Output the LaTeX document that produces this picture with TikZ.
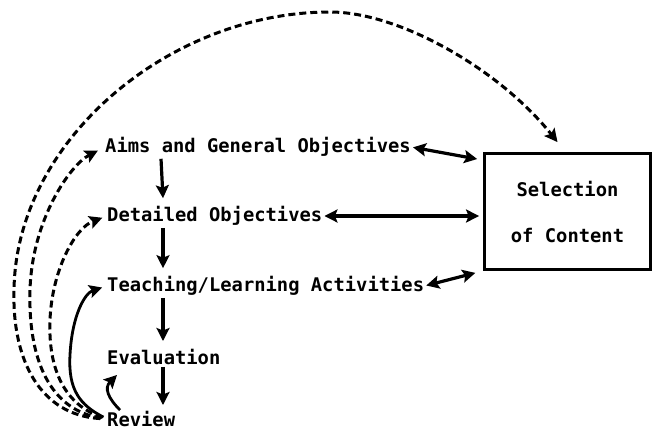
\documentclass[tikz,border=0pt]{standalone}
\usepackage{fontspec}
\newfontfamily\printfont{DejaVu Sans Mono}
\usetikzlibrary{arrows.meta}
\begin{document}
\begin{tikzpicture}[x=1pt,y=-1pt,
  label/.style={inner xsep=0pt,inner ysep=2pt,anchor=west,font=\printfont\bfseries\fontsize{18.8}{22}\selectfont},
  tip/.style={-{Stealth[length=13pt,width=13pt,inset=2.5pt]}},
  flow/.style={line width=3.2pt,tip},
  both/.style={line width=3.2pt,{Stealth[length=13pt,width=13pt,inset=2.5pt]}-{Stealth[length=13pt,width=13pt,inset=2.5pt]}},
  loop/.style={line width=3pt,dash pattern=on 7pt off 4pt,tip},
  back/.style={line width=2.8pt,tip}]
\useasboundingbox (0,0) rectangle (653,430);

% stages of the cycle
\node[label] (aims)  at (105,147) {Aims and General Objectives};
\node[label] (det)   at (107,216) {Detailed Objectives};
\node[label] (teach) at (107,286) {Teaching/Learning Activities};
\node[label] (eval)  at (107,357) {Evaluation};
\node[label] (rev)   at (107,419) {Review};

% content box
\node[draw,line width=2.8pt,minimum width=166pt,minimum height=116pt,align=center,
      font=\printfont\bfseries\fontsize{18.8}{22}\selectfont] (sel) at (567.5,211.5)
      {Selection\\[24pt]of Content};

% downward flow
\draw[flow] ([xshift=56pt]aims.south west) -- ([xshift=56pt,yshift=6pt]det.north west);
\draw[flow] ([xshift=56pt]det.south west) -- ([xshift=56pt,yshift=6pt]teach.north west);
\draw[flow] ([xshift=56pt]teach.south west) -- ([xshift=56pt,yshift=6pt]eval.north west);
\draw[flow] ([xshift=56pt]eval.south west) -- ([xshift=56pt,yshift=4pt]rev.north west);

% links with the content box
\draw[both,shorten <=2pt,shorten >=6pt] (aims.east) -- ([yshift=-8pt]sel.north west);
\draw[both,shorten <=2pt,shorten >=4pt] (det.east) -- (det.east -| sel.west);
\draw[both,shorten <=2pt,shorten >=8pt] (teach.east) -- (sel.south west);

% review loops back
\draw[loop,shorten <=7pt] (rev.west) .. controls (40,415) and (12,360) .. (14,290)
  .. controls (16,140) and (170,12) .. (330,12)
  .. controls (400,12) and (500,70) .. ([shift={(-10,-10)}]sel.north);
\draw[loop,shorten <=6pt,shorten >=8pt] (rev.west) .. controls (50,410) and (28,360) .. (30,290)
  .. controls (32,220) and (70,165) .. (aims.west);
\draw[loop,shorten <=5pt,shorten >=5pt] (rev.west) .. controls (65,405) and (48,370) .. (50,320)
  .. controls (52,270) and (75,228) .. (det.west);
\draw[back,shorten <=4pt,shorten >=5pt] (rev.west) .. controls (80,405) and (68,390) .. (70,355)
  .. controls (72,315) and (85,293) .. (teach.west);
\draw[back] ([xshift=13pt,yshift=-1pt]rev.north west) .. controls (108,398) and (104,388)
  .. ([xshift=10pt,yshift=-8pt]eval.south west);
\end{tikzpicture}
\end{document}
